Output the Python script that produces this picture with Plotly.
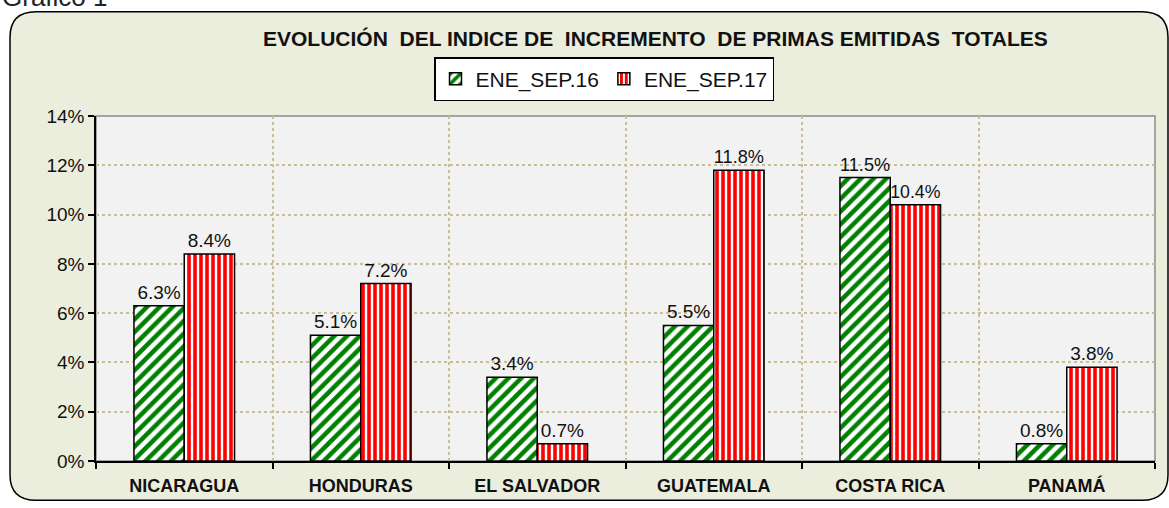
import plotly.graph_objects as go

paises = ["NICARAGUA", "HONDURAS", "EL SALVADOR", "GUATEMALA", "COSTA RICA", "PANAMÁ"]
ene_sep_16 = [0.063, 0.051, 0.034, 0.055, 0.115, 0.007]
ene_sep_17 = [0.084, 0.072, 0.007, 0.118, 0.104, 0.038]
etiquetas_16 = ["6.3%", "5.1%", "3.4%", "5.5%", "11.5%", "0.8%"]
etiquetas_17 = ["8.4%", "7.2%", "0.7%", "11.8%", "10.4%", "3.8%"]
y_ticks = [0, 0.02, 0.04, 0.06, 0.08, 0.10, 0.12, 0.14]

W, H = 1169, 508
L, R, T, B = 96, 14, 116, 41
PW, PH = W - L - R, H - T - B
FONT = "Liberation Sans, Arial, sans-serif"


def px_x(px):
    return (px - L) / PW


def px_y(py):
    return 1 - (py - T) / PH


def rounded_rect(x0, y0, x1, y1, r):
    # pixel box -> paper-coordinate SVG path with rounded corners
    pts = [
        f"M {px_x(x0 + r)} {px_y(y0)}",
        f"L {px_x(x1 - r)} {px_y(y0)}",
        f"Q {px_x(x1)} {px_y(y0)} {px_x(x1)} {px_y(y0 + r)}",
        f"L {px_x(x1)} {px_y(y1 - r)}",
        f"Q {px_x(x1)} {px_y(y1)} {px_x(x1 - r)} {px_y(y1)}",
        f"L {px_x(x0 + r)} {px_y(y1)}",
        f"Q {px_x(x0)} {px_y(y1)} {px_x(x0)} {px_y(y1 - r)}",
        f"L {px_x(x0)} {px_y(y0 + r)}",
        f"Q {px_x(x0)} {px_y(y0)} {px_x(x0 + r)} {px_y(y0)}",
        "Z",
    ]
    return " ".join(pts)


xs = list(range(len(paises)))

fig = go.Figure()
fig.add_trace(go.Bar(
    x=xs, y=ene_sep_16, name="ENE_SEP.16",
    text=etiquetas_16, textposition="outside", cliponaxis=False,
    textfont=dict(size=19, color="#111", family=FONT),
    marker=dict(
        color="white",
        line=dict(color="black", width=1.5),
        pattern=dict(shape="/", fgcolor="#008000", bgcolor="white",
                     size=9, solidity=0.5, fillmode="replace"),
    ),
))
fig.add_trace(go.Bar(
    x=xs, y=ene_sep_17, name="ENE_SEP.17",
    text=etiquetas_17, textposition="outside", cliponaxis=False,
    textfont=dict(size=19, color="#111", family=FONT),
    marker=dict(
        color="white",
        line=dict(color="black", width=1.5),
        pattern=dict(shape="|", fgcolor="#FF0000", bgcolor="white",
                     size=6, solidity=0.6, fillmode="replace"),
    ),
))

fig.update_layout(
    width=W, height=H,
    margin=dict(l=L, r=R, t=T, b=B),
    paper_bgcolor="white",
    plot_bgcolor="rgba(0,0,0,0)",
    font=dict(family=FONT, color="#111", size=14),
    barmode="group", bargap=0.43, bargroupgap=0,
    showlegend=True,
    legend=dict(
        orientation="h", x=px_x(604), xanchor="center", y=px_y(56), yanchor="top",
        bgcolor="white", bordercolor="black", borderwidth=1.5,
        font=dict(size=21, family=FONT), itemwidth=30,
        traceorder="normal",
    ),
    shapes=[
        dict(type="path", xref="paper", yref="paper", layer="below",
             path=rounded_rect(10, 10, 1168, 507, 26),
             fillcolor="#EBEEDD", line=dict(color="black", width=1.5)),
        dict(type="rect", xref="paper", yref="paper", layer="below",
             x0=0, x1=1, y0=0, y1=1,
             fillcolor="#F2F2F2", line=dict(color="#8C8C8C", width=1.5)),
    ],
    annotations=[
        dict(text="<b>EVOLUCIÓN  DEL INDICE DE  INCREMENTO  DE PRIMAS EMITIDAS  TOTALES</b>",
             xref="paper", yref="paper", x=px_x(655), y=px_y(37),
             xanchor="center", yanchor="middle", showarrow=False,
             font=dict(size=21, family=FONT, color="#111")),
        dict(text="Gráfico 1", xref="paper", yref="paper",
             x=px_x(0), y=px_y(12), xanchor="left", yanchor="bottom",
             showarrow=False, font=dict(size=26, family=FONT, color="#222")),
    ],
)

fig.update_xaxes(
    range=[-0.5, len(paises) - 0.5],
    tickvals=xs, ticktext=[f"<b>{p}</b>" for p in paises], ticks="",
    tickfont=dict(size=18, family=FONT, color="#111"),
    showgrid=False, zeroline=False,
    showline=True, linecolor="black", linewidth=1.5,
    minor=dict(tick0=0.5, dtick=1, ticks="outside", ticklen=6,
               tickcolor="black", tickwidth=1.5,
               showgrid=True, gridcolor="#C8BF98", griddash="dot", gridwidth=1.5),
    ticklabelstandoff=8,
)
fig.update_yaxes(
    range=[0, 0.14], tickvals=y_ticks, tickformat=".0%",
    ticks="outside", ticklen=6, tickcolor="black", tickwidth=1.5,
    tickfont=dict(size=19, family=FONT, color="#111"),
    showgrid=True, gridcolor="#C8BF98", griddash="dot", gridwidth=1.5,
    zeroline=False,
    showline=True, linecolor="black", linewidth=1.5,
)

fig.write_html("out.html", config={"displayModeBar": False},
               post_script="document.body.style.margin='0';")
